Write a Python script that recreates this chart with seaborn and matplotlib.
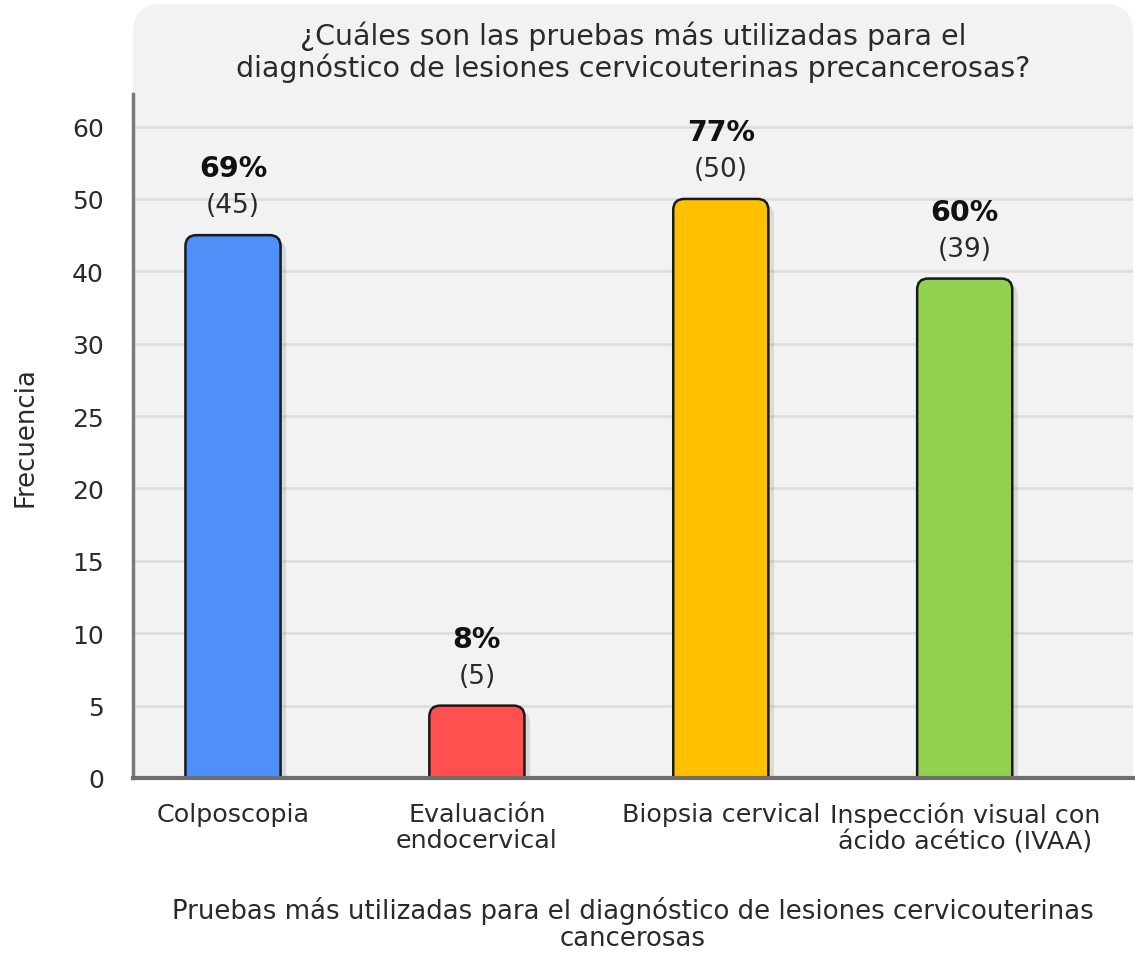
import numpy as np
import pandas as pd
import matplotlib
matplotlib.use("Agg")
import matplotlib.pyplot as plt
import seaborn as sns
from matplotlib.patches import FancyBboxPatch, Rectangle
from matplotlib import patheffects as pe

# ---- data ----
categories = ["Colposcopia", "Evaluación\nendocervical", "Biopsia cervical",
              "Inspección visual con\nácido acético (IVAA)"]
counts = [45, 5, 50, 39]
percents = [69, 8, 77, 60]
colors = ["#4f8ff8", "#ff4f4f", "#ffc000", "#92d050"]
y_ticks = [0, 5, 10, 15, 20, 25, 30, 40, 50, 60]
title = "¿Cuáles son las pruebas más utilizadas para el\ndiagnóstico de lesiones cervicouterinas precancerosas?"
xlabel = "Pruebas más utilizadas para el diagnóstico de lesiones cervicouterinas\ncancerosas"
ylabel = "Frecuencia"

sns.set_theme(style="white")
plt.rcParams["font.family"] = ["DejaVu Sans"]

W, H, DPI = 1135, 954, 100
fig = plt.figure(figsize=(W / DPI, H / DPI), dpi=DPI)
fig.patch.set_facecolor("white")

# gray panel behind title + plot (display pixels): rounded top, square bottom
panel_top = FancyBboxPatch((133, H - 400), 1000, 395,
                           boxstyle="round,pad=0,rounding_size=28",
                           transform=None, facecolor="#f2f2f2", edgecolor="none", zorder=-5)
panel_bot = Rectangle((133, H - 779), 1000, 500, transform=None,
                      facecolor="#f2f2f2", edgecolor="none", zorder=-5)
fig.patches.extend([panel_top, panel_bot])

ax = fig.add_axes([133 / W, (H - 779) / H, 1000 / W, (779 - 95) / H])
ax.set_facecolor("none")
ax.set_zorder(2)

# piecewise-linear y scale: ticks equally spaced
tick_idx = np.arange(len(y_ticks), dtype=float)
def fwd(y):
    y = np.asarray(y, dtype=float)
    out = np.interp(y, y_ticks, tick_idx)
    out = np.where(y > y_ticks[-1], tick_idx[-1] + (y - y_ticks[-1]) / 10.0, out)
    out = np.where(y < 0, y / 5.0, out)
    return out
def inv(t):
    t = np.asarray(t, dtype=float)
    out = np.interp(t, tick_idx, y_ticks)
    out = np.where(t > tick_idx[-1], y_ticks[-1] + (t - tick_idx[-1]) * 10.0, out)
    out = np.where(t < 0, t * 5.0, out)
    return out

df = pd.DataFrame({"cat": categories, "n": counts})
sns.barplot(data=df, x="cat", y="n", hue="cat", palette=colors, legend=False,
            saturation=1, width=0.39, edgecolor="#1a1a1a", linewidth=1.8, ax=ax, zorder=3)
ax.set_yscale("function", functions=(fwd, inv))
ax.set_ylim(0, 64.5)
ax.set_xlim(-0.41, 3.69)
ax.set_yticks(y_ticks)
ax.set_yticklabels([str(v) for v in y_ticks])

# grid
ax.grid(axis="y", color="#dcdcdc", linewidth=1.8, zorder=1)
ax.grid(axis="x", visible=False)
ax.set_axisbelow(True)

# spines
for s in ["top", "right"]:
    ax.spines[s].set_visible(False)
ax.spines["left"].set_color("#7a7a7a")
ax.spines["left"].set_linewidth(2.5)
ax.spines["bottom"].set_color("#6e6e6e")
ax.spines["bottom"].set_linewidth(3)
ax.spines["bottom"].set_zorder(6)

ax.tick_params(axis="y", length=0, pad=21, labelsize=18, labelcolor="#2a2a2a")
ax.tick_params(axis="x", length=0, pad=17, labelsize=18.3, labelcolor="#2a2a2a")
for lab in ax.get_xticklabels():
    lab.set_linespacing(1.15)

# round bar tops: replace rectangles with rounded boxes in display space
fig.canvas.draw()
for p in list(ax.patches):
    x0, y0 = p.get_x(), p.get_y()
    w, h = p.get_width(), p.get_height()
    (px0, py0), (px1, py1) = ax.transData.transform([(x0, y0), (x0 + w, y0 + h)])
    fc = p.get_facecolor()
    r = 11
    rb = FancyBboxPatch((px0, py0 - r), px1 - px0, (py1 - py0) + r,
                        boxstyle=f"round,pad=0,rounding_size={r}",
                        transform=None, facecolor=fc, edgecolor="#1a1a1a",
                        linewidth=1.8, zorder=3,
                        path_effects=[pe.SimplePatchShadow(offset=(4, -4), alpha=0.13),
                                      pe.Normal()])
    rb.set_clip_path(ax.patch)
    ax.add_artist(rb)
    p.set_visible(False)

# value labels
for i, (n, pc) in enumerate(zip(counts, percents)):
    ax.annotate(f"({n})", (i, n), xytext=(0, 12), textcoords="offset points",
                ha="center", va="bottom", fontsize=19, color="#2a2a2a", zorder=5)
    ax.annotate(f"{pc}%", (i, n), xytext=(0, 38), textcoords="offset points",
                ha="center", va="bottom", fontsize=20.5, fontweight="bold",
                color="#111111", zorder=5)

ax.set_xlabel(xlabel, fontsize=18.7, color="#2a2a2a", labelpad=30, linespacing=1.05)
ax.set_ylabel(ylabel, fontsize=18.7, color="#2a2a2a", labelpad=24)

fig.text(633 / W, 1 - 52 / H, title, ha="center", va="center", fontsize=20.5,
         color="#2a2a2a", linespacing=1.12)

fig.savefig("out.png", dpi=DPI)
